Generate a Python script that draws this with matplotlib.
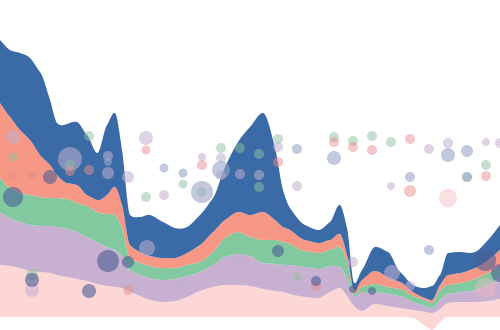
import numpy as np
import matplotlib
matplotlib.use("Agg")
import matplotlib.pyplot as plt

# sample positions along the stream
x = [0, 10, 20, 30, 40, 50, 57, 67, 77, 87,
     97, 107, 115, 122, 130, 140, 150, 163, 175, 187,
     200, 213, 225, 238, 250, 263, 275, 283, 290, 305,
     318, 330, 340, 347, 354, 362, 375, 388, 400, 413,
     425, 432, 440, 448, 460, 475, 488, 500]

# layer thickness, bottom to top
pink = [52, 51, 49, 46, 45, 44, 42, 40, 38, 36,
        33, 31, 30, 29, 25, 21, 17, 15, 16, 20,
        26, 30, 32, 32, 31, 28, 26, 25, 23, 20,
        19, 25, 29, 21, 11, 6, 13, 11, 9, 8,
        14, 17, 13, 14, 15, 15, 16, 18]
lavender = [53, 48, 46, 46, 46, 47, 48, 48, 47, 44,
            42, 39, 37, 32, 22, 21, 22, 22, 22, 21,
            19, 22, 28, 31, 30, 26, 27, 27, 29, 30,
            29, 26, 21, 18, 10, 19, 12, 12, 12, 8,
            6, 5, 9, 9, 10, 12, 16, 22]
green = [34, 30, 29, 30, 29, 28, 29, 30, 29, 31,
         30, 33, 35, 28, 12, 12, 12, 12, 11, 11,
         10, 13, 19, 22, 19, 23, 24, 23, 21, 16,
         16, 16, 20, 16, 3, 5, 8, 7, 7, 6,
         6, 5, 10, 9, 9, 11, 12, 11]
salmon = [75, 71, 63, 55, 42, 33, 23, 16, 18, 11,
          12, 19, 28, 23, 13, 11, 10, 10, 10, 12,
          17, 20, 18, 20, 22, 28, 20, 15, 14, 11,
          10, 10, 13, 7, 3, 7, 13, 10, 7, 4,
          2, 3, 5, 10, 10, 11, 13, 16]
blue = [63, 67, 77, 82, 83, 65, 52, 59, 63, 60,
        47, 70, 74, 55, 30, 35, 41, 36, 30, 26,
        30, 34, 53, 70, 88, 99, 72, 37, 22, 15,
        13, 18, 29, 27, 7, 10, 24, 25, 10, 7,
        10, 14, 10, 22, 21, 16, 20, 25]
# baseline offset of the bottom layer
dip = [0, 0, 0, 0, 0, 0, 0, 0, 0, 0,
       0, 0, 0, 0, 0, 0, 0, 0, 0, 0,
       0, 0, 0, 0, 0, 0, 0, 0, 0, 0,
       0, 0, 0, 0, 0, 0, 0, 0, 0, -1,
       -9, -13, -5, 0, 0, 0, 0, 0]

# bubbles
bub_x = [13, 70, 108, 128, 146, 164, 202, 221, 221, 240, 259, 278, 297, 429, 448, 486, 500,
         391, 147, 183, 240, 353, 392, 410, 108, 32,
         13, 70, 89, 183, 146, 202, 221, 240, 259, 259, 278, 334, 353, 372, 391, 486, 467, 32, 297,
         13, 32, 70, 89, 146, 202, 278, 334, 353, 372, 410, 486, 410, 316, 128,
         448, 485,
         108, 164, 183, 202, 221, 297, 334, 448, 467, 410, 429, 467,
         50, 13, 108, 128, 32, 89, 278, 316, 353, 372, 485, 500]
bub_y = [180, 158, 161, 140, 179, 122, 160, 159, 142, 143, 142, 170, 131, 168, 174, 175, 174,
         131, 69, 31, 55, 55, 44, 31, 144, 27,
         160, 152, 181, 133, 120, 125, 169, 169, 163, 130, 178, 180, 176, 181, 175, 152, 140, 42, 40,
         142, 142, 146, 147, 167, 152, 155, 175, 170, 167, 178, 141, 126, 31, 27,
         119, 29,
         155, 149, 144, 125, 147, 168, 159, 162, 166, 140, 67, 140,
         140, 120, 56, 55, 37, 26, 66, 36, 28, 26, 57, 44]
bub_r = [7, 12, 5, 6, 7, 5, 4, 5, 5, 5, 5, 5, 5, 5, 5, 4, 5,
         4, 8, 5, 7, 5, 8, 5, 6, 7,
         4.5, 5, 5, 4.5, 5, 4.5, 5, 5, 5, 5, 5, 5, 5, 5, 5, 5, 5, 6, 4,
         4.5, 4.5, 5, 5, 4.5, 5, 5, 5, 5, 5, 5, 5, 6, 5, 5,
         9, 10,
         4, 4.5, 4.5, 11, 9, 5, 7, 7, 6, 5, 5, 5,
         7, 10, 11, 6, 7, 7, 6, 5, 4, 4, 11, 9]
bub_kind = (["lavender"] * 26 + ["green"] * 19 + ["pink"] * 15 + ["blush"] * 2
            + ["slate"] * 12 + ["navy"] * 12)

layer_colors = ["#fdd6d6", "#c8b0d0", "#82c9a0", "#f69885", "#3a6ba6"]
bubble_style = {
    "lavender": ("#c4afd0", 0.55),
    "green": ("#8fc0a2", 0.5),
    "pink": ("#e89090", 0.5),
    "blush": ("#f0b8c0", 0.45),
    "slate": ("#9aa6c8", 0.6),
    "navy": ("#4a5f95", 0.6),
}


def pchip(xs, ys, xn):
    """monotone cubic interpolation, used only to draw smooth edges"""
    xs = np.asarray(xs, float)
    ys = np.asarray(ys, float)
    h = np.diff(xs)
    d = np.diff(ys) / h
    m = np.zeros_like(ys)
    m[0], m[-1] = d[0], d[-1]
    for k in range(1, len(xs) - 1):
        if d[k - 1] * d[k] > 0:
            w1 = 2 * h[k] + h[k - 1]
            w2 = h[k] + 2 * h[k - 1]
            m[k] = (w1 + w2) / (w1 / d[k - 1] + w2 / d[k])
    i = np.clip(np.searchsorted(xs, xn) - 1, 0, len(xs) - 2)
    t = (xn - xs[i]) / h[i]
    h00 = 2 * t**3 - 3 * t**2 + 1
    h10 = t**3 - 2 * t**2 + t
    h01 = -2 * t**3 + 3 * t**2
    h11 = t**3 - t**2
    return h00 * ys[i] + h10 * h[i] * m[i] + h01 * ys[i + 1] + h11 * h[i] * m[i + 1]


fig = plt.figure(figsize=(5, 3.3), dpi=100)
ax = fig.add_axes([0, 0, 1, 1])
ax.set_xlim(0, 500)
ax.set_ylim(-13, 317)
ax.axis("off")

xs = np.linspace(0, 500, 1001)
lower = pchip(x, dip, xs)
for vals, col in zip([pink, lavender, green, salmon, blue], layer_colors):
    upper = lower + pchip(x, vals, xs)
    ax.fill_between(xs, lower, upper, color=col, lw=0)
    lower = upper

for kind, (col, a) in bubble_style.items():
    idx = [i for i, k in enumerate(bub_kind) if k == kind]
    ax.scatter([bub_x[i] for i in idx], [bub_y[i] for i in idx],
               s=[(1.44 * bub_r[i]) ** 2 for i in idx],
               color=col, alpha=a, lw=0, zorder=3)

fig.savefig("out.png", dpi=100)
